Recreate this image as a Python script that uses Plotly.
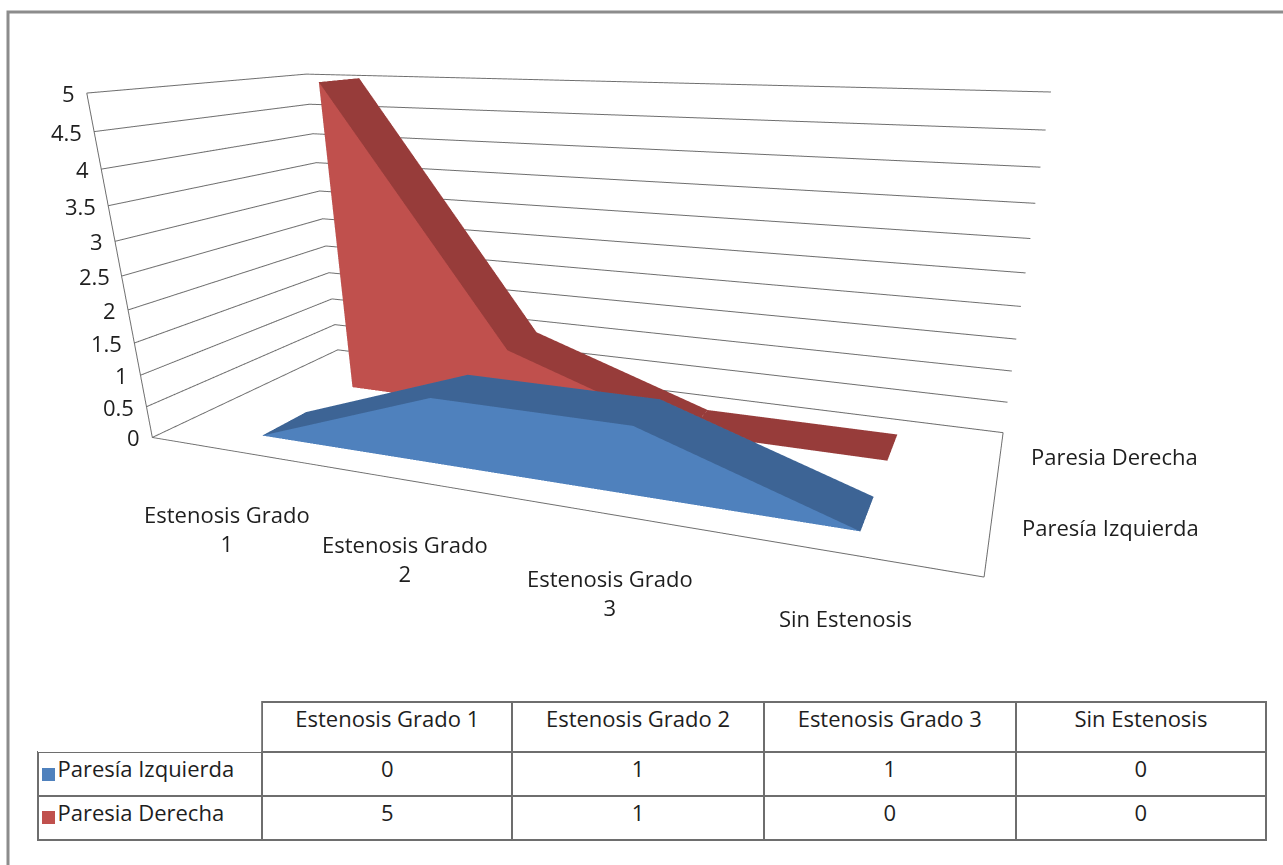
import plotly.graph_objects as go

# Data
categories = ["Estenosis Grado 1", "Estenosis Grado 2", "Estenosis Grado 3", "Sin Estenosis"]
axis_labels = ["Estenosis Grado<br>1", "Estenosis Grado<br>2", "Estenosis Grado<br>3", "Sin Estenosis"]
series_names = ["Paresía Izquierda", "Paresia Derecha"]
paresia_izquierda = [0, 1, 1, 0]
paresia_derecha = [5, 1, 0, 0]
z_ticks = [0, 0.5, 1, 1.5, 2, 2.5, 3, 3.5, 4, 4.5, 5]

series_values = [paresia_izquierda, paresia_derecha]
front_colors = ["#4F81BD", "#C0504D"]
top_colors = ["#3D6495", "#973C3A"]

FONT = "Open Sans"
FS = 22
TXT = "#1E1E1E"
GRID = "#6E6E6E"

W, H = 1283, 865
XR, YR, ZR = (-0.5, 3.5), (-0.5, 1.5), (0.0, 5.0)
HALF_DEPTH = 0.227          # half thickness of each area along the series axis

fig = go.Figure()


def area_ribbon(values, depth_pos, front_color, top_color):
    """Build a 3-D area (extruded along the series axis) as a mesh."""
    xs, ys, zs = [], [], []
    yf, yb = depth_pos - HALF_DEPTH, depth_pos + HALF_DEPTH
    for i, v in enumerate(values):
        # front-bottom, front-top, back-bottom, back-top
        xs += [i, i, i, i]
        ys += [yf, yf, yb, yb]
        zs += [0, v, 0, v]
    I, J, K, colors = [], [], [], []

    def quad(a, b, c, d, col):
        I.extend([a, a]); J.extend([b, c]); K.extend([c, d]); colors.extend([col, col])

    n = len(values)
    for i in range(n - 1):
        a, b = 4 * i, 4 * (i + 1)
        quad(a + 2, b + 2, b + 3, a + 3, front_color)   # back face
        quad(a + 1, b + 1, b + 3, a + 3, top_color)     # top surface
        quad(a, b, b + 1, a + 1, front_color)           # front face
    quad(0, 1, 3, 2, top_color)                          # left cap
    e = 4 * (n - 1)
    quad(e, e + 1, e + 3, e + 2, top_color)              # right cap
    return go.Mesh3d(
        x=xs, y=ys, z=zs, i=I, j=J, k=K,
        facecolor=colors, flatshading=True,
        lighting=dict(ambient=1.0, diffuse=0.0, specular=0.0, roughness=1.0, fresnel=0.0),
        hoverinfo="skip", showscale=False,
    )


for s, vals in enumerate(series_values):
    fig.add_trace(area_ribbon(vals, s, front_colors[s], top_colors[s]))

# value labels along the front-left edge, category labels under the front edge,
# series labels beside the right edge of the floor
tfont = dict(family=FONT, size=FS, color=TXT)
scene_annotations = []
for t in z_ticks:
    scene_annotations.append(dict(x=XR[0], y=YR[0], z=t, text=f"{t:g}", showarrow=False,
                                  xanchor="right", yanchor="middle", xshift=-10, font=tfont))
for i, lab in enumerate(axis_labels):
    scene_annotations.append(dict(x=i, y=YR[0], z=0, text=lab, showarrow=False,
                                  xanchor="center", yanchor="top", yshift=-46, xshift=-6, font=tfont))
for s, name in enumerate(series_names):
    scene_annotations.append(dict(x=XR[1], y=s, z=0, text=name, showarrow=False,
                                  xanchor="left", yanchor="middle", xshift=30, yshift=5, font=tfont))

axis_common = dict(showbackground=False, zeroline=False, showspikes=False, title=dict(text=""),
                   ticks="", showticklabels=False, showline=True, linecolor=GRID, linewidth=2)

fig.update_layout(
    width=W, height=H,
    margin=dict(l=0, r=0, t=0, b=0),
    paper_bgcolor="white",
    font=tfont,
    showlegend=False,
    scene=dict(
        domain=dict(x=[0.0, 1.0], y=[0.0, 1.0]),
        xaxis=dict(range=list(XR), showgrid=False, **axis_common),
        yaxis=dict(range=list(YR), showgrid=False, **axis_common),
        zaxis=dict(range=list(ZR), tickvals=z_ticks, showgrid=True, gridcolor=GRID, gridwidth=2,
                   **axis_common),
        aspectmode="manual",
        aspectratio=dict(x=2.428, y=0.941, z=1.0),
        camera=dict(
            eye=dict(x=1.205, y=-2.711, z=0.709),
            center=dict(x=0.152, y=0.131, z=-0.520),
            up=dict(x=-0.005, y=0.027, z=1),
            projection=dict(type="perspective"),
        ),
        annotations=scene_annotations,
    ),
)

# data table under the chart
NBSP = "\u00a0"
legend_cells = [NBSP * 2 + n for n in series_names]
table_columns = [legend_cells] + [[paresia_izquierda[i], paresia_derecha[i]] for i in range(len(categories))]
fig.add_trace(go.Table(
    domain=dict(x=[38 / W, 1266 / W], y=[0.0, 1 - 702 / H]),
    columnwidth=[224, 250, 251, 252, 250],
    header=dict(values=[""] + categories, fill_color="white",
                line=dict(color=["rgba(0,0,0,0)"] + [GRID] * 4, width=2),
                align="center", height=50, font=tfont),
    cells=dict(values=table_columns, fill_color="white", line=dict(color=GRID, width=2),
               align=["left", "center", "center", "center", "center"], height=44, font=tfont),
))

# legend keys in the table's first column
for s, c in enumerate(front_colors):
    fig.add_shape(type="rect", xref="paper", yref="paper",
                  x0=42 / W, x1=55 / W, y0=1 - (781 + 43 * s) / H, y1=1 - (768 + 43 * s) / H,
                  fillcolor=c, line=dict(width=0))

# chart-area border
fig.add_shape(type="rect", xref="paper", yref="paper",
              x0=8 / W, x1=1.01, y0=-0.01, y1=1 - 12 / H,
              line=dict(color="#8C8C8C", width=3), fillcolor="rgba(0,0,0,0)")

fig.write_html("out.html")
